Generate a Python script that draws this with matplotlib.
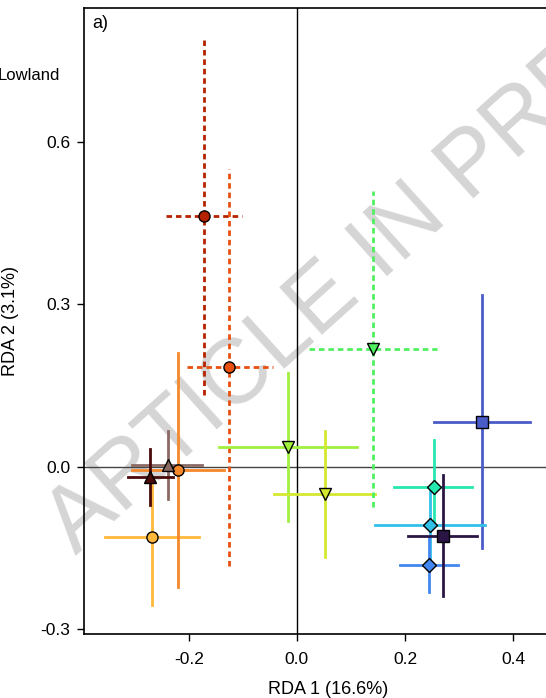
import matplotlib
matplotlib.use("Agg")
import matplotlib.pyplot as plt
from matplotlib.ticker import FormatStrFormatter

plt.rcParams["font.family"] = ["Liberation Sans", "DejaVu Sans"]
plt.rcParams["axes.unicode_minus"] = False

# ---------- data (group centroids with ranges) ----------
x_c = [-0.268, -0.220, -0.239, -0.271, -0.172, -0.125,
       -0.016, 0.052, 0.141,
       0.343, 0.253, 0.247, 0.244, 0.270]
y_c = [-0.129, -0.006, 0.004, -0.019, 0.463, 0.184,
       0.037, -0.050, 0.218,
       0.083, -0.037, -0.108, -0.181, -0.127]
x_lo = [-0.355, -0.306, -0.305, -0.312, -0.242, -0.203,
        -0.144, -0.042, 0.023,
        0.254, 0.179, 0.145, 0.190, 0.206]
x_hi = [-0.181, -0.135, -0.175, -0.230, -0.102, -0.045,
        0.111, 0.144, 0.260,
        0.431, 0.325, 0.349, 0.298, 0.333]
y_lo = [-0.256, -0.222, -0.060, -0.070, 0.133, -0.184,
        -0.101, -0.167, -0.075,
        -0.150, -0.110, -0.180, -0.232, -0.238]
y_hi = [-0.020, 0.210, 0.066, 0.033, 0.794, 0.551,
        0.174, 0.066, 0.509,
        0.318, 0.050, -0.035, -0.130, -0.016]
colors = ["#FFB83A", "#F5882A", "#8A6A62", "#4A0A0A", "#B52200", "#E85010",
          "#A0F040", "#D4E830", "#50F060",
          "#4A5CC8", "#25E8B0", "#30C0E8", "#4288F0", "#2A1545"]
markers = ["o", "o", "^", "^", "o", "o",
           "v", "v", "v",
           "s", "D", "D", "D", "s"]
dashed = [False, False, False, False, True, True,
          False, False, True,
          False, False, False, False, False]

fig = plt.figure(figsize=(5.46, 6.98), dpi=100)
ax = fig.add_axes([84 / 546, 1 - 634 / 698, (573 - 84) / 546, (634 - 8) / 698])

ax.axhline(0, color="#444444", lw=1.0, zorder=1)
ax.axvline(0, color="black", lw=1.0, zorder=1)

for i in range(len(x_c)):
    ls = (0, (2, 1.4)) if dashed[i] else "-"
    ax.plot([x_lo[i], x_hi[i]], [y_c[i], y_c[i]], color=colors[i], lw=2,
            ls=ls, zorder=2)
    ax.plot([x_c[i], x_c[i]], [y_lo[i], y_hi[i]], color=colors[i], lw=2,
            ls=ls, zorder=2)
    ms = 9 if markers[i] in ("^", "v") else (7 if markers[i] == "D" else 8)
    ax.plot(x_c[i], y_c[i], marker=markers[i], ms=ms, mfc=colors[i],
            mec="black", mew=1, ls="none", zorder=3)

ax.set_xlim(-0.394, 0.511)
ax.set_ylim(-0.309, 0.848)
ax.set_xticks([-0.2, 0.0, 0.2, 0.4])
ax.set_yticks([-0.3, 0.0, 0.3, 0.6])
ax.xaxis.set_major_formatter(FormatStrFormatter("%.1f"))
ax.yaxis.set_major_formatter(FormatStrFormatter("%.1f"))
ax.tick_params(direction="out", length=5, width=1, labelsize=12.5, pad=5)
ax.tick_params(axis="x", pad=8)
ax.spines["right"].set_visible(False)
for s in ("left", "bottom", "top"):
    ax.spines[s].set_linewidth(1.2)
ax.set_xlabel("RDA 1 (16.6%)", fontsize=13, labelpad=10)
ax.set_ylabel("RDA 2 (3.1%)", fontsize=13, labelpad=15)

ax.text(92 / 546, 1 - 24 / 698, "a)", transform=fig.transFigure,
        fontsize=13, va="center", ha="left")
fig.text(60 / 546, 1 - 75 / 698, "Lowland", fontsize=12, va="center", ha="right")

# watermark
ax.text(76 / 546, 1 - 556 / 698, "ARTICLE IN PRESS", transform=fig.transFigure,
        rotation=42, rotation_mode="anchor", ha="left", va="baseline",
        fontsize=66, color="#D5D5D5", zorder=0, clip_on=False)

fig.savefig("out.png", dpi=100)
